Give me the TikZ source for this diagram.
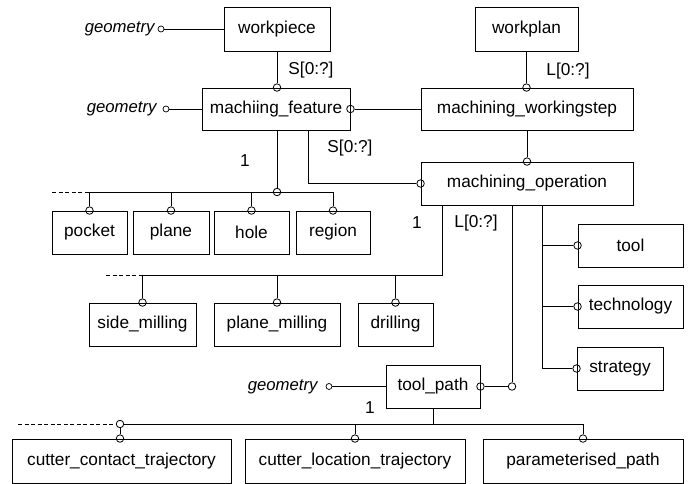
\documentclass[tikz,border=0pt]{standalone}
\usepackage{fontspec}
\setmainfont{Liberation Sans}
\begin{document}
\begin{tikzpicture}[x=1bp,y=-1bp,
  every node/.style={font=\fontsize{17.3}{19}\selectfont},
  box/.style={draw, line width=0.9bp, inner sep=0pt, minimum height=43bp},
  port/.style={circle, draw, inner sep=0pt, minimum size=7.5bp, line width=0.8bp},
  gport/.style={circle, draw, inner sep=0pt, minimum size=6bp, line width=0.7bp},
  lab/.style={inner sep=0pt},
  geo/.style={inner sep=0pt, anchor=east, font=\fontsize{16.8}{19}\selectfont\itshape},
  dashedline/.style={dash pattern=on 4bp off 2.5bp},
  line width=0.9bp]
\useasboundingbox (0,0) rectangle (692,484);

% boxes
\node[box, minimum width=106bp, minimum height=44bp] (workpiece) at (277,29) {workpiece};
\node[box, minimum width=103bp, minimum height=44bp] (workplan) at (526.5,29) {workplan};
\node[box, minimum width=148bp, minimum height=42bp] (feature) at (276,109) {machiing\_feature};
\node[box, minimum width=212bp, minimum height=42bp] (wstep) at (527,109) {machining\_workingstep};
\node[box, minimum width=212bp] (oper) at (527,183.5) {machining\_operation};
\node[box, minimum width=75bp] (pocket) at (89.5,232.5) {pocket};
\node[box, minimum width=76bp] (plane) at (171,232.5) {plane};
\node[box, minimum width=75bp] (hole) at (251.5,232.5) {hole};
\node[box, minimum width=74bp] (region) at (333,232.5) {region};
\node[box, minimum width=107bp] (side) at (142.5,324.5) {side\_milling};
\node[box, minimum width=126bp] (planem) at (277,324.5) {plane\_milling};
\node[box, minimum width=75bp] (drilling) at (395.5,324.5) {drilling};
\node[box, minimum width=105bp] (tool) at (630.5,245.5) {tool};
\node[box, minimum width=105bp] (tech) at (630.5,306.5) {technology};
\node[box, minimum width=86bp] (strategy) at (620,368.5) {strategy};
\node[box, minimum width=94bp] (toolpath) at (433,386.5) {tool\_path};
\node[box, minimum width=219bp, minimum height=44bp] (cct) at (121.5,461) {cutter\_contact\_trajectory};
\node[box, minimum width=220bp, minimum height=44bp] (clt) at (355,461) {cutter\_location\_trajectory};
\node[box, minimum width=200bp, minimum height=44bp] (pp) at (583,461) {parameterised\_path};

% geometry labels
\node[geo] (g1) at (155,29) {geometry};
\node[geo] (g2) at (157,109) {geometry};
\node[geo] (g3) at (318,387) {geometry};
\node[gport] (gp1) at (161,29) {};
\node[gport] (gp2) at (166,109) {};
\node[gport] (gp3) at (329,386.5) {};

% ports
\node[port] (pF) at (workpiece.south |- feature.north) {};
\node[port] (pWS) at (workplan.south |- wstep.north) {};
\node[port] (pFR) at (feature.east) {};
\node[port] (pOT) at (wstep.south |- oper.north) {};
\node[port] (pOL) at (oper.west) {};
\node[port] (pB1) at (277,192) {};
\node[port] (pPocket) at (pocket.north) {};
\node[port] (pPlane) at (plane.north) {};
\node[port] (pHole) at (hole.north) {};
\node[port] (pRegion) at (region.north) {};
\node[port] (pSide) at (side.north) {};
\node[port] (pPM) at (planem.north) {};
\node[port] (pDr) at (drilling.north) {};
\node[port] (pTool) at (tool.west) {};
\node[port] (pTech) at (tech.west) {};
\node[port] (pStrat) at (strategy.west) {};
\node[port] (pTPR) at (toolpath.east) {};
\node[port] (pTPend) at (512,386.5) {};
\node[port] (pB3) at (120,424) {};
\node[port] (pCCT) at (pB3 |- cct.north) {};
\node[port] (pCLT) at (clt.north) {};
\node[port] (pPP) at (pp.north) {};

\coordinate (b2) at (442,275);
\coordinate (v) at (542,0);
\coordinate (d1) at (52,192);
\coordinate (d2) at (105,275);
\coordinate (d3) at (18,424);
\coordinate (s2) at (308,0);

% connectors
\draw (gp1.east) -- (workpiece.west);
\draw (gp2.east) -- (gp2.east -| feature.west);
\draw (gp3.east) -- (gp3.east -| toolpath.west);
\draw (workpiece.south) -- (pF.north);
\draw (workplan.south) -- (pWS.north);
\draw (pFR.east) -- (wstep.west);
\draw (wstep.south) -- (pOT.north);
\draw (feature.south -| s2) |- (pOL.west);
\draw (feature.south -| pB1) -- (pB1.north);
\draw[dashedline] (d1) -- (pPocket |- pB1);
\draw (pPocket |- pB1) -- (pRegion |- pB1);
\draw (pPocket |- pB1) -- (pPocket.north);
\draw (pPlane |- pB1) -- (pPlane.north);
\draw (pHole |- pB1) -- (pHole.north);
\draw (pRegion |- pB1) -- (pRegion.north);
\draw (oper.south -| b2) -- (b2) -- (b2 -| pSide);
\draw[dashedline] (b2 -| pSide) -- (d2);
\draw (b2 -| pSide) -- (pSide.north);
\draw (b2 -| pPM) -- (pPM.north);
\draw (b2 -| pDr) -- (pDr.north);
\draw (oper.south -| pTPend) -- (pTPend.north);
\draw (pTPR.east) -- (pTPend.west);
\draw (oper.south -| v) |- (pStrat.west);
\draw (v |- pTool) -- (pTool.west);
\draw (v |- pTech) -- (pTech.west);
\draw (toolpath.south) -- (toolpath.south |- pB3);
\draw (pB3.east) -- (pPP |- pB3);
\draw[dashedline] (d3) -- (pB3.west);
\draw (pB3.south) -- (pCCT.north);
\draw (pCLT |- pB3) -- (pCLT.north);
\draw (pPP |- pB3) -- (pPP.north);

% labels
\node[lab] (l1) at (311,70) {S[0:?]};
\node[lab] (l2) at (568,71) {L[0:?]};
\node[lab] (l3) at (350,148) {S[0:?]};
\node[lab] (n1) at (245,161) {1};
\node[lab] (n2) at (417,223) {1};
\node[lab] (l4) at (476,223) {L[0:?]};
\node[lab] (n3) at (370,408) {1};
\end{tikzpicture}
\end{document}
